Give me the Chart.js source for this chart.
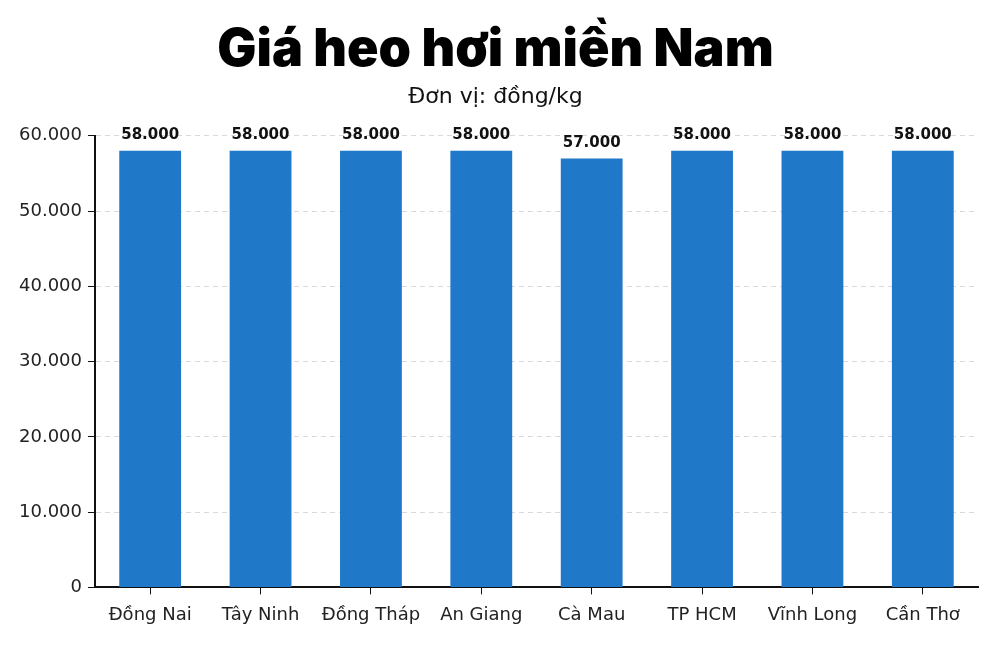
<!DOCTYPE html>
<html>
<head>
<meta charset="utf-8">
<script src="https://cdn.jsdelivr.net/npm/chart.js@4/dist/chart.umd.min.js"></script>
<style>
  html, body { margin: 0; padding: 0; background: #fff; }
  #wrap { width: 998px; height: 665px; }
</style>
</head>
<body>
<div id="wrap"><canvas id="chart" width="998" height="665"></canvas></div>
<script>
const regions = ['Đồng Nai', 'Tây Ninh', 'Đồng Tháp', 'An Giang', 'Cà Mau', 'TP HCM', 'Vĩnh Long', 'Cần Thơ'];
const prices = [58000, 58000, 58000, 58000, 57000, 58000, 58000, 58000];

const fmt = v => v.toLocaleString('de-DE');

// value labels above each bar
const barLabels = {
  id: 'barLabels',
  afterDatasetsDraw: (chart) => {
    const {ctx} = chart;
    const meta = chart.getDatasetMeta(0);
    ctx.save();
    ctx.font = 'bold 15px "DejaVu Sans"';
    ctx.fillStyle = '#111';
    ctx.textAlign = 'center';
    ctx.textBaseline = 'bottom';
    meta.data.forEach((bar, i) => {
      ctx.fillText(fmt(chart.data.datasets[0].data[i]), bar.x, bar.y - 8);
    });
    ctx.restore();
  }
};

new Chart(document.getElementById('chart'), {
  type: 'bar',
  data: {
    labels: regions,
    datasets: [{
      label: 'Giá heo hơi',
      data: prices,
      backgroundColor: '#1f78c8',
      barPercentage: 0.56,
      categoryPercentage: 1.0
    }]
  },
  options: {
    responsive: false,
    animation: false,
    layout: { padding: { left: 13, right: 20, top: 0, bottom: 29 } },
    plugins: {
      legend: { display: false },
      tooltip: { enabled: false },
      title: {
        display: true,
        text: 'Giá heo hơi miền Nam',
        color: '#000',
        font: { family: 'Inter', size: 52, weight: 900 },
        padding: { top: 19, bottom: 3 }
      },
      subtitle: {
        display: true,
        text: 'Đơn vị: đồng/kg',
        color: '#111',
        font: { family: 'DejaVu Sans', size: 22 },
        padding: { top: 0, bottom: 25 }
      }
    },
    scales: {
      x: {
        grid: {
          display: true,
          drawOnChartArea: false,
          offset: false,
          tickLength: 7,
          tickColor: '#111'
        },
        border: { display: true, color: '#111', width: 2 },
        ticks: {
          color: '#222',
          font: { family: 'DejaVu Sans', size: 18 },
          padding: 10
        }
      },
      y: {
        min: 0,
        max: 60000,
        ticks: {
          stepSize: 10000,
          color: '#222',
          font: { family: 'DejaVu Sans', size: 18 },
          padding: 6,
          callback: (v) => fmt(v)
        },
        grid: {
          color: '#d9d9d9',
          tickColor: '#111',
          tickLength: 7,
          lineWidth: 1
        },
        border: { display: true, color: '#111', width: 2, dash: [5, 4] }
      }
    }
  },
  plugins: [barLabels]
});
</script>
</body>
</html>
